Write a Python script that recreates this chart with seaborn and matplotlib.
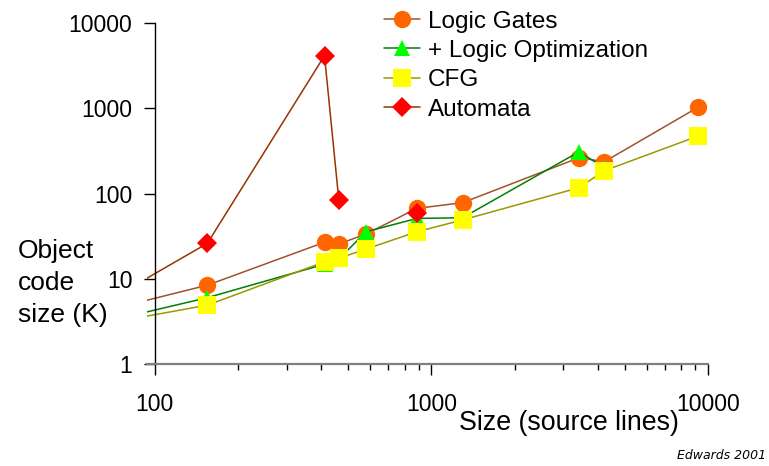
import numpy as np
import pandas as pd
import seaborn as sns
import matplotlib.pyplot as plt
from matplotlib.ticker import LogLocator, NullFormatter, FixedLocator

# source lines vs. object code size (K)
gates_x = [60, 155, 411, 463, 581, 887, 1297, 3420, 4220, 9200]
gates_y = [3.9, 8.4, 26.8, 25.6, 33.5, 67, 78, 263, 236, 1026]

opt_x = [60, 155, 411, 463, 581, 887, 1297, 3420, 4220]
opt_y = [2.9, 6.0, 14.8, 17.0, 35.6, 51, 52, 309, 200]

cfg_x = [60, 155, 411, 463, 581, 887, 1297, 3420, 4220, 9200]
cfg_y = [2.8, 4.9, 15.8, 17.4, 22.3, 35.6, 49, 117, 185, 472]

# the automata point at 887 lines is not joined to the others
auto_x = [60, 155, 411, 463, 887]
auto_y = [4.4, 26, 4140, 84, 59]
auto_seg = [0, 0, 0, 0, 1]

series = [
    ("Logic Gates", gates_x, gates_y, None, "#A0522D", "#FF6600", "o", 12.5),
    ("+ Logic Optimization", opt_x, opt_y, None, "#008000", "#00FF00", "^", 12),
    ("CFG", cfg_x, cfg_y, None, "#999900", "#FFFF00", "s", 13),
    ("Automata", auto_x, auto_y, auto_seg, "#993300", "#FF0000", "D", 10),
]

sns.set_style("white")
plt.rcParams['font.family'] = ['Liberation Sans', 'DejaVu Sans']
plt.rcParams['text.color'] = 'black'
plt.rcParams['axes.labelcolor'] = 'black'
plt.rcParams['xtick.color'] = 'black'
plt.rcParams['ytick.color'] = 'black'

fig = plt.figure(figsize=(7.69, 4.66), dpi=100)
ax = fig.add_axes([0.1908, 0.2189, 0.9207 - 0.1908, 0.9506 - 0.2189])

for name, xs, ys, seg, lc, mc, mk, ms in series:
    df = pd.DataFrame({"x": xs, "y": ys})
    style = dict(color=lc, linewidth=1.1, marker=mk, markersize=ms,
                 markerfacecolor=mc, markeredgecolor=mc, markeredgewidth=0)
    if seg is None:
        sns.lineplot(data=df, x="x", y="y", ax=ax, label=name,
                     sort=False, estimator=None, **style)
    else:
        df["seg"] = seg
        for k, part in df.groupby("seg"):
            sns.lineplot(data=part, x="x", y="y", ax=ax,
                         label=name if k == 0 else "_nolegend_",
                         sort=False, estimator=None, **style)

ax.set_xscale("log")
ax.set_yscale("log")
ax.set_xlim(93.6, 10000)
ax.set_ylim(1, 10000)

ax.spines['top'].set_visible(False)
ax.spines['right'].set_visible(False)
ax.spines['left'].set_position(('data', 100))
ax.spines['left'].set_color('black')
ax.spines['left'].set_linewidth(1.0)
ax.spines['bottom'].set_color('#808080')
ax.spines['bottom'].set_linewidth(1.6)

ax.xaxis.set_major_locator(FixedLocator([100, 1000, 10000]))
ax.xaxis.set_minor_locator(LogLocator(base=10, subs=np.arange(2, 10)))
ax.xaxis.set_minor_formatter(NullFormatter())
ax.set_xticklabels(["100", "1000", "10000"])
ax.yaxis.set_major_locator(FixedLocator([1, 10, 100, 1000, 10000]))
ax.yaxis.set_minor_locator(FixedLocator([]))
ax.set_yticklabels(["1", "10", "100", "1000", "10000"])

ax.tick_params(axis='x', which='major', direction='out', length=8, width=1,
               color='black', labelsize=16.5, pad=13, bottom=True)
ax.tick_params(axis='x', which='minor', direction='out', length=4, width=1,
               color='black', bottom=True)
ax.tick_params(axis='y', which='major', direction='out', length=8, width=1,
               color='black', labelsize=16.5, pad=8, left=True)

ax.set_xlabel("Size (source lines)", fontsize=19.3)
ax.xaxis.set_label_coords(0.752, -0.173)
ax.xaxis.label.set_va('center')

ax.set_ylabel("Object\ncode\nsize (K)", fontsize=19, rotation=0,
              ha='left', va='center', multialignment='left', linespacing=1.42)
ax.yaxis.set_label_coords(-0.229, 0.237)

leg = ax.legend(loc='upper left', bbox_to_anchor=(0.405, 1.065), frameon=False,
                fontsize=17.5, handlelength=1.48, handletextpad=0.33,
                labelspacing=0.3, borderaxespad=0)

fig.text(0.996, 0.008, "Edwards 2001", ha='right', va='bottom', fontsize=9,
         style='italic', family='DejaVu Sans')

fig.savefig("out.png", dpi=100)
